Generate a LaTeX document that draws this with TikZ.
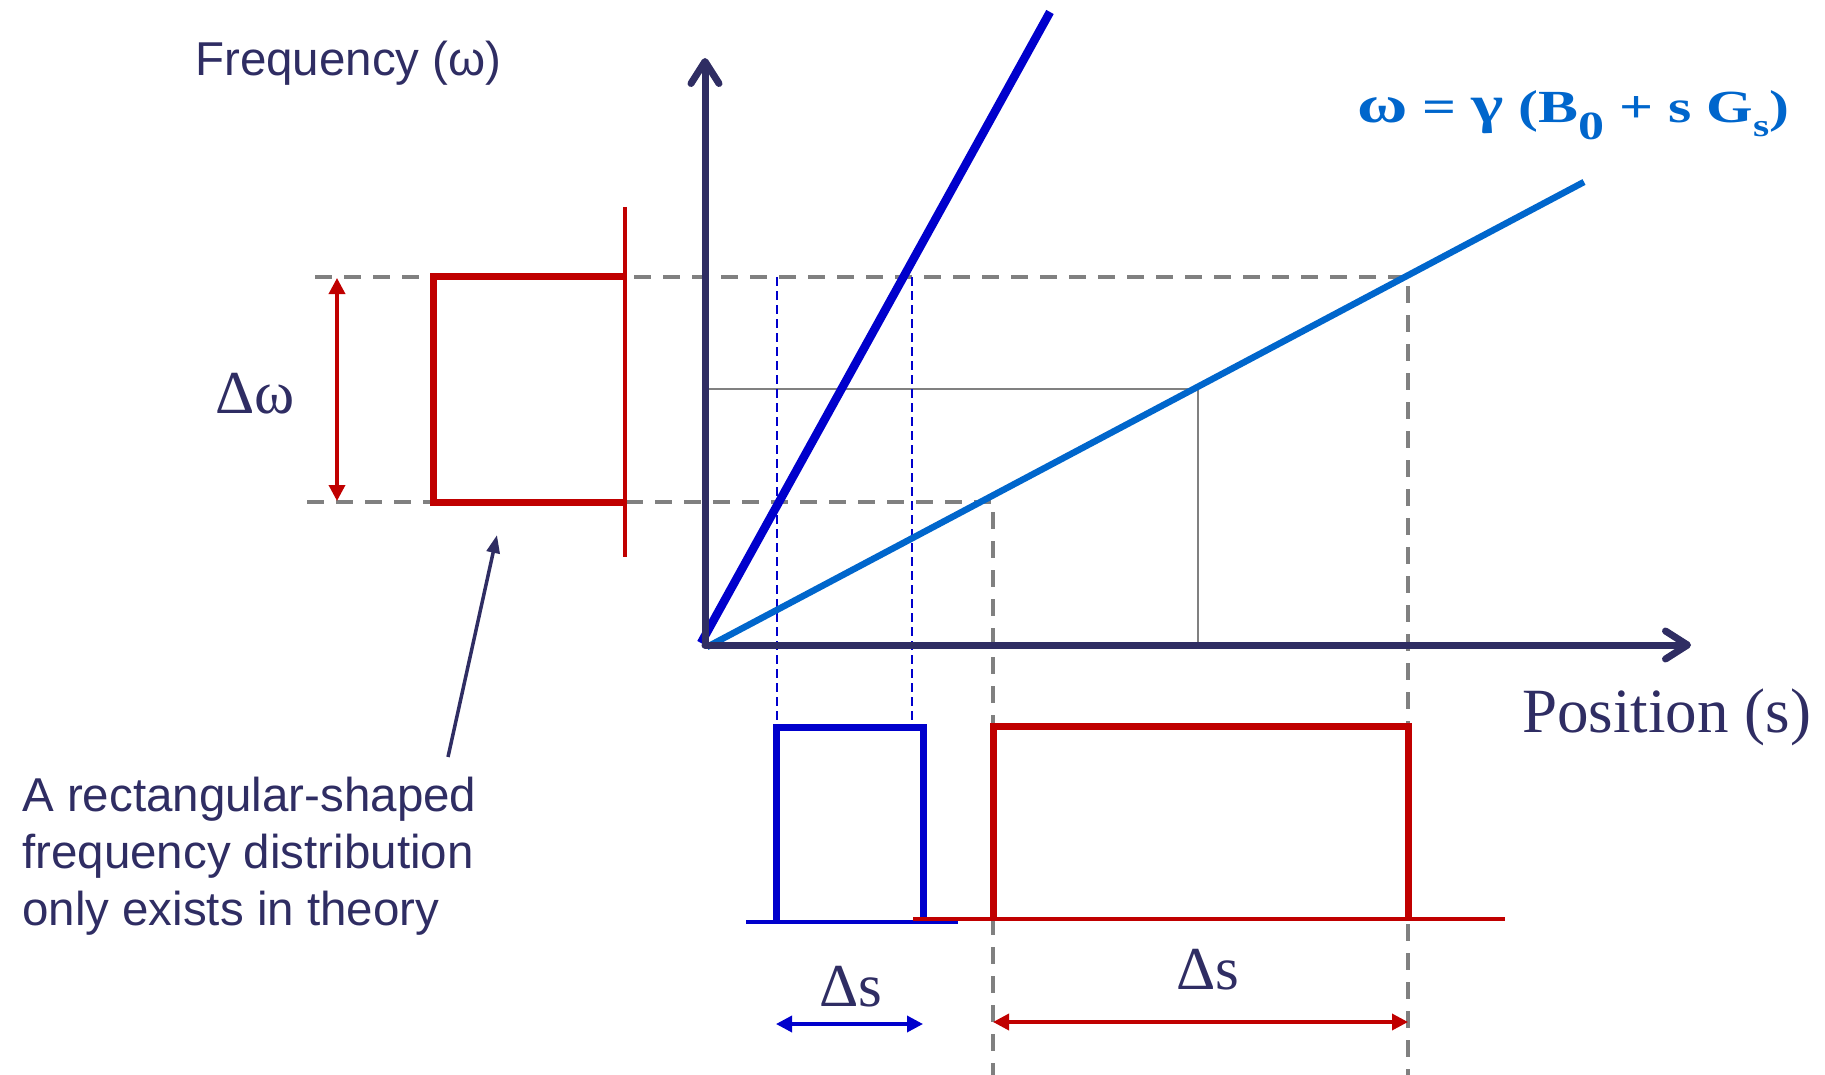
\documentclass[tikz,border=0pt]{standalone}
\usepackage{fontspec}
\usepackage{graphicx}
\setmainfont{Liberation Serif}
\newfontfamily\arialf{Liberation Sans}
\usetikzlibrary{arrows.meta}
\definecolor{navy}{HTML}{2F2D63}
\definecolor{dblue}{HTML}{0000CC}
\definecolor{lblue}{HTML}{0066CC}
\definecolor{dred}{HTML}{C00000}
\definecolor{grayline}{HTML}{808080}
\newcommand{\biggreek}[1]{{\fontsize{53pt}{53pt}\selectfont #1}}
\begin{document}
\begin{tikzpicture}[x=1pt,y=-1pt,
  axisline/.style={navy,line width=7pt,line cap=round,-{Straight Barb[length=22pt,width=28pt,line cap=round,line join=round]}},
  guide/.style={grayline,line width=4pt,dash pattern=on 17pt off 12pt},
  blueguide/.style={dblue,line width=2pt,dash pattern=on 9pt off 5pt},
  thickred/.style={dred,line width=7pt,line join=miter},
  thickblue/.style={dblue,line width=7pt,line join=miter},
  baseredline/.style={dred,line width=3.5pt},
  baseblueline/.style={dblue,line width=3.5pt},
  dimarrow/.style={line width=3.5pt,{Triangle[length=16pt,width=16pt]}-{Triangle[length=16pt,width=16pt]}},
  sanslabel/.style={inner sep=0pt,navy,font=\arialf\fontsize{47.5pt}{57pt}\selectfont},
  seriflabel/.style={inner sep=0pt,navy,font=\fontsize{61pt}{70pt}\selectfont},
]
\useasboundingbox (0,0) rectangle (1825,1075);

% coordinates
\coordinate (O) at (705,645);
\coordinate (ytip) at (705,58);
\coordinate (xtip) at (1691,645);
\coordinate (steepS) at (701,643);
\coordinate (steepE) at (1050,12);
\coordinate (lineS) at (707,647);
\coordinate (lineE) at (1584,182);

% guides
\coordinate (gA) at (705,389);
\coordinate (gB) at (1198,389);
\coordinate (gC) at (1198,645);
\draw[grayline,line width=2.5pt] (gA) -- (gB) -- (gC);

\coordinate (uL) at (315,277);
\coordinate (uR) at (1408,277);
\coordinate (uB) at (1408,1075);
\draw[guide] (uL) -- (uR) -- (uB);
\coordinate (lL) at (307,502);
\coordinate (lR) at (993,502);
\coordinate (lB) at (993,1075);
\draw[guide] (lL) -- (lR) -- (lB);

\coordinate (b1t) at (777,277);
\coordinate (b1b) at (777,727);
\coordinate (b2t) at (912,277);
\coordinate (b2b) at (912,727);
\draw[blueguide] (b1t) -- (b1b);
\draw[blueguide] (b2t) -- (b2b);

% lines
\draw[lblue,line width=6.5pt] (lineS) -- (lineE);
\draw[dblue,line width=8.5pt] (steepS) -- (steepE);

% axes
\draw[axisline] (O) -- (ytip);
\draw[axisline] (O) -- (xtip);

% frequency distribution (red)
\coordinate (fr1) at (625,277);
\coordinate (fr2) at (433,277);
\coordinate (fr3) at (433,502);
\coordinate (fr4) at (625,502);
\draw[thickred] (fr1) -- (fr2) -- (fr3) -- (fr4);
\coordinate (frt) at (625,207);
\coordinate (frb) at (625,557);
\draw[dred,line width=4pt] (frt) -- (frb);
\coordinate (dwT) at (337,278);
\coordinate (dwB) at (337,501);
\draw[dimarrow,dred] (dwT) -- (dwB);
\node[seriflabel,anchor=base] (dw) at (255,413) {Δω};

% blue profile
\coordinate (bp1) at (776,921);
\coordinate (bp2) at (776,727);
\coordinate (bp3) at (923,727);
\coordinate (bp4) at (923,921);
\draw[thickblue] (bp1) -- (bp2) -- (bp3) -- (bp4);
\coordinate (bbl) at (746,922);
\coordinate (bbr) at (958,922);
\draw[baseblueline] (bbl) -- (bbr);

% red profile
\coordinate (rp1) at (993,919);
\coordinate (rp2) at (993,726);
\coordinate (rp3) at (1408,726);
\coordinate (rp4) at (1408,919);
\draw[thickred] (rp1) -- (rp2) -- (rp3) -- (rp4);
\coordinate (rbl) at (913,919);
\coordinate (rbr) at (1505,919);
\draw[baseredline] (rbl) -- (rbr);

% delta s arrows
\coordinate (dsbL) at (776,1024);
\coordinate (dsbR) at (923,1024);
\draw[dimarrow,dblue] (dsbL) -- (dsbR);
\node[seriflabel,anchor=base] (dsb) at (851,1006) {Δs};
\coordinate (dsrL) at (993,1022);
\coordinate (dsrR) at (1408,1022);
\draw[dimarrow,dred] (dsrL) -- (dsrR);
\node[seriflabel,anchor=base] (dsr) at (1208,989) {Δs};

% labels
\node[sanslabel,anchor=base west] (freq) at (195,76) {Frequency (ω)};
\node[seriflabel,anchor=base west,font=\fontsize{63pt}{70pt}\selectfont] (pos) at (1522,732) {Position (s)};
\node[inner sep=0pt,lblue,anchor=base west] (eq) at (1357,123)
  {\scalebox{1.3}[1]{\fontsize{46pt}{50pt}\selectfont\bfseries \biggreek{ω} = \biggreek{γ} (B\raisebox{-17pt}{\fontsize{40pt}{40pt}\selectfont 0} + s G\raisebox{-14pt}{\fontsize{32pt}{32pt}\selectfont s})}};

% annotation
\node[sanslabel,anchor=base west] (ann1) at (22,811) {A rectangular-shaped};
\node[sanslabel,anchor=base west] (ann2) at (22,868) {frequency distribution};
\node[sanslabel,anchor=base west] (ann3) at (22,925) {only exists in theory};
\coordinate (annS) at (448,757);
\coordinate (annE) at (497,535);
\draw[navy,line width=3.5pt,-{Triangle[length=18pt,width=13pt]}] (annS) -- (annE);
\end{tikzpicture}
\end{document}
